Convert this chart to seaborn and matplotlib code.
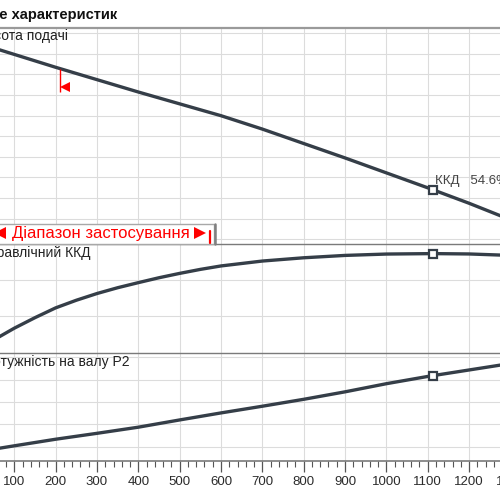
import matplotlib
matplotlib.use("Agg")
from matplotlib import pyplot as plt
from matplotlib.lines import Line2D
from matplotlib.patches import Rectangle
from matplotlib.ticker import MultipleLocator, FixedLocator
from matplotlib.transforms import offset_copy
import seaborn as sns

# flow rate Q and the three characteristic curves
q_head = [0, 100, 200, 300, 400, 500, 600, 700, 800, 900, 1000, 1100, 1200, 1300]
head = [29.2, 27.95, 26.7, 25.5, 24.3, 23.15, 22.0, 20.7, 19.3, 17.9, 16.45, 15.0, 13.5, 11.9]

q_eff = [0, 50, 100, 150, 200, 250, 300, 350, 400, 450, 500, 550, 600, 700, 800, 900, 1000, 1113, 1200, 1300]
eff = [0.0, 7.0, 13.5, 19.3, 24.7, 28.9, 32.6, 35.8, 38.6, 41.3, 43.7, 45.9, 47.8, 50.5, 52.3, 53.6, 54.35, 54.6, 54.4, 53.6]

q_power = [0, 100, 200, 300, 400, 500, 600, 700, 800, 900, 1000, 1100, 1200, 1300]
power = [14.8, 20.8, 26.7, 32.0, 37.5, 44.0, 50.3, 56.3, 62.5, 69.2, 76.5, 83.0, 88.8, 94.6]

q_ticks = [100, 200, 300, 400, 500, 600, 700, 800, 900, 1000, 1100, 1200, 1300]

# best efficiency point and start of the application range
q_bep = 1113
head_bep = 14.8
eff_bep = 54.6
power_bep = 83.8
q_min = 211
head_min = 26.55

title = "Поле характеристик"
label_head = "Висота подачі"
label_eff = "Гідравлічний ККД"
label_power = "Потужність на валу P2"
range_text = "Діапазон застосування"

LINE = "#353e48"
GRID = "#dcdcdc"
BORDER = "#7a7a7a"
RED = "#ff0000"
FONT = ["Liberation Sans", "DejaVu Sans"]

sns.set_style("white")
plt.rcParams["font.family"] = FONT

W = H = 500.0


def fx(px):
    return px / W


def fy(py):
    return 1 - py / H


def main():
    fig = plt.figure(figsize=(5, 5), dpi=100)
    left_px, right_px = -60, 560
    xlim = ((left_px + 27.04) / 0.4134, (right_px + 27.04) / 0.4134)

    def panel(top, bottom, ylim, ystep):
        ax = fig.add_axes([fx(left_px), fy(bottom), (right_px - left_px) / W, (bottom - top) / H])
        ax.set_xlim(*xlim)
        ax.set_ylim(*ylim)
        ax.xaxis.set_major_locator(MultipleLocator(100))
        ax.yaxis.set_major_locator(MultipleLocator(ystep))
        ax.grid(True, color=GRID, lw=0.8)
        ax.tick_params(axis="y", left=False, labelleft=False)
        ax.tick_params(axis="x", bottom=False, labelbottom=False)
        for s in ["left", "right", "bottom"]:
            ax.spines[s].set_visible(False)
        ax.spines["top"].set_color(BORDER)
        ax.spines["top"].set_linewidth(1.0)
        return ax

    ax_h = panel(28.3, 243.8, (9.563, 30.485), 2)
    ax_e = panel(243.8, 352.7, (0, 60), 20)
    ax_p = panel(352.7, 460.7, (7.45, 104.3), 20)
    ax_h.spines["top"].set_color("#9a9a9a")
    ax_h.spines["top"].set_linewidth(1.6)

    for ax, q, y in [(ax_h, q_head, head), (ax_e, q_eff, eff), (ax_p, q_power, power)]:
        sns.lineplot(x=q, y=y, ax=ax, color=LINE, lw=2.4)
        ax.set_xlabel("")
        ax.set_ylabel("")

    # bottom axis with ticks
    ax_p.xaxis.set_major_locator(FixedLocator(q_ticks))
    ax_p.spines["bottom"].set_visible(True)
    ax_p.spines["bottom"].set_color(BORDER)
    ax_p.spines["bottom"].set_linewidth(1.2)
    ax_p.xaxis.set_minor_locator(MultipleLocator(20))
    ax_p.tick_params(axis="x", which="major", bottom=True, labelbottom=True, direction="out",
                     length=8, width=0.9, color="#555555", labelsize=9.5, labelcolor="#2b2b2b", pad=3)
    ax_p.tick_params(axis="x", which="minor", bottom=True, direction="out",
                     length=4.5, width=0.8, color="#555555")

    for ax, y in [(ax_h, head_bep), (ax_e, eff_bep), (ax_p, power_bep)]:
        ax.plot(q_bep, y, marker="s", ms=6, mfc="white", mec=LINE, mew=1.6, zorder=5)

    ax_h.annotate(f"ККД   {eff_bep:.1f}%", (q_bep, head_bep), xytext=(1.7, 6.7),
                  textcoords="offset points", ha="left", va="center",
                  fontsize=9.5, color="#444444")

    # start of application range
    ax_h.vlines(q_min, head_min - 2.23, head_min, color=RED, lw=1.0)
    tri = offset_copy(ax_h.transData, fig=fig, x=5.2, y=-18.5, units="dots")
    ax_h.plot(q_min, head_min, marker="<", ms=7.5, color=RED, mew=0, transform=tri)

    # panel labels
    fig.text(fx(68.3), fy(36), label_head, ha="right", va="center", fontsize=10, color="#222222")
    fig.text(fx(90), fy(253.3), label_eff, ha="right", va="center", fontsize=10, color="#222222")
    fig.text(fx(129.3), fy(361.7), label_power, ha="right", va="center", fontsize=10, color="#222222")

    fig.text(fx(116.7), fy(14.5), title, ha="right", va="center", fontsize=10.5,
             fontweight="bold", color="#111111")

    # application range box
    fig.add_artist(Rectangle((fx(-100), fy(244)), fx(314.3), (244 - 223.8) / H,
                             transform=fig.transFigure, facecolor="white",
                             edgecolor="#a8a8a8", lw=1.0, zorder=3))
    fig.add_artist(Line2D([fx(214.6), fx(214.6)], [fy(224), fy(244)], transform=fig.transFigure,
                          color="#808080", lw=1.8, zorder=4))
    fig.text(fx(11.7), fy(233.5), range_text, ha="left", va="center", fontsize=12,
             color=RED, zorder=5)
    fig.add_artist(Line2D([fx(-0.5)], [fy(233.2)], transform=fig.transFigure, marker="<",
                          ms=8, color=RED, mew=0, zorder=5))
    fig.add_artist(Line2D([fx(200)], [fy(233.2)], transform=fig.transFigure, marker=">",
                          ms=8, color=RED, mew=0, zorder=5))
    fig.add_artist(Line2D([fx(210.3), fx(210.3)], [fy(231), fy(243.3)], transform=fig.transFigure,
                          color=RED, lw=1.6, zorder=5))

    fig.savefig("out.png", dpi=100)


if __name__ == "__main__":
    main()
